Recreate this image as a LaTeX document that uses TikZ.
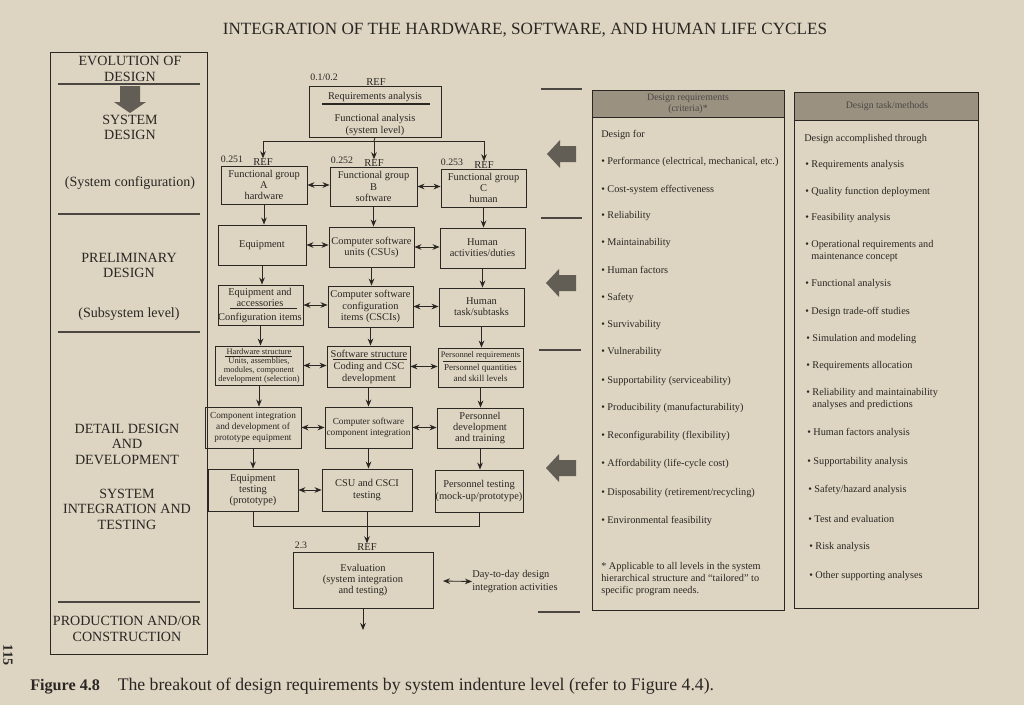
\documentclass[tikz,border=0pt]{standalone}
\usepackage{fontspec}
\setmainfont{Liberation Serif}
\usetikzlibrary{arrows.meta}

\definecolor{paper}{RGB}{221,212,194}
\definecolor{ink}{RGB}{42,38,34}
\definecolor{hdrgray}{RGB}{155,145,129}
\definecolor{arrgray}{RGB}{98,93,85}

\newcommand{\bxf}{\fontsize{7.4}{7.9}\selectfont}
\newcommand{\smf}{\fontsize{6}{6.4}\selectfont}
\newcommand{\lvf}{\fontsize{10}{11}\selectfont}
\newcommand{\itf}{\fontsize{7.3}{8.5}\selectfont}

\begin{document}
\begin{tikzpicture}[x=0.025cm,y=-0.025cm,
  blk/.style={draw=ink,line width=0.6pt,inner sep=0pt,align=center,font=\bxf,text=ink},
  wh/.style 2 args={minimum width=#1*0.025cm,minimum height=#2*0.025cm},
  txt/.style={inner sep=0pt,align=center,font=\bxf,text=ink},
  num/.style={inner sep=0pt,font=\fontsize{7}{7}\selectfont,text=ink},
  ref/.style={inner sep=0pt,font=\fontsize{7.5}{7.5}\selectfont,text=ink},
  lvl/.style={inner sep=0pt,align=center,font=\lvf,text=ink},
  item/.style={inner sep=0pt,anchor=west,align=left,font=\itf,text=ink},
  hdr/.style={inner sep=0pt,align=center,font=\fontsize{7}{8}\selectfont,text=ink!85},
  rul/.style={draw=ink,line width=0.6pt},
  bar/.style={draw=ink!85,line width=1.1pt},
  arr/.style={draw=ink,line width=0.6pt,-{Stealth[length=5pt,width=4pt]}},
  dbl/.style={draw=ink,line width=0.6pt,{Stealth[length=5pt,width=4pt]}-{Stealth[length=5pt,width=4pt]}}]

  \fill[paper] (0,0) rectangle (1024,705);

  \node[inner sep=0pt,font=\fontsize{12.2}{12}\selectfont,text=ink] (title) at (525,30)
    {INTEGRATION OF THE HARDWARE, SOFTWARE, AND HUMAN LIFE CYCLES};

  % evolution of design
  \draw[ink,line width=0.7pt] (50,52) rectangle (207,654);
  \node[lvl] (evo) at (130,69) {EVOLUTION OF\\DESIGN};
  \draw[bar] (58,84) -- (200,84);
  \fill[arrgray] (120,86) -- (140,86) -- (140,102) -- (146,102) -- (130,113) -- (114,102) -- (120,102) -- cycle;
  \node[lvl] (sysd) at (130,127.5) {SYSTEM\\DESIGN};
  \node[lvl] (sysc) at (130,183) {(System configuration)};
  \draw[bar] (58,214) -- (200,214);
  \node[lvl] (prel) at (129,265.5) {PRELIMINARY\\DESIGN};
  \node[lvl] (subs) at (129,314) {(Subsystem level)};
  \draw[bar] (58,332) -- (200,332);
  \node[lvl] (detd) at (127,444) {DETAIL DESIGN\\AND\\DEVELOPMENT};
  \node[lvl] (sint) at (127,509) {SYSTEM\\INTEGRATION AND\\TESTING};
  \draw[bar,line width=1.5pt] (58,602) -- (200,602);
  \node[lvl] (prod) at (127,629) {PRODUCTION AND/OR\\CONSTRUCTION};

  % top level
  \node[blk,wh={132}{51}] (req) at (375,111.5) {};
  \node[txt] (reqa) at (375,97) {Requirements analysis};
  \draw[rul,line width=0.8pt] (322,104) -- (430,104);
  \node[txt] (reqf) at (375,125) {Functional analysis\\(system level)};
  \node[num] (nreq) at (324,77) {0.1/0.2};
  \node[ref] (rreq) at (376,82) {REF};

  \node[blk,wh={86}{38}] (gA) at (264,185) {Functional group\\A\\hardware};
  \node[blk,wh={87}{39}] (gB) at (373.5,186.5) {Functional group\\B\\software};
  \node[blk,wh={85}{38}] (gC) at (483.5,188) {Functional group\\C\\human};
  \node[num] (nA) at (232,159) {0.251};
  \node[num] (nB) at (342,160) {0.252};
  \node[num] (nC) at (452,162) {0.253};
  \node[ref] (rA) at (263,162) {REF};
  \node[ref] (rB) at (374,163) {REF};
  \node[ref] (rC) at (484,165) {REF};

  \coordinate (br) at (374,141);
  \draw[rul] (req.south) -- (br);
  \draw[arr] (br) -| (rA.north);
  \draw[arr] (br) -- (rB.north);
  \draw[arr] (br) -| (rC.north);

  % subsystem boxes
  \node[blk,wh={88}{40}] (eqp) at (262,245) {Equipment};
  \node[blk,wh={85}{40}] (csu) at (371.5,247) {Computer software\\units (CSUs)};
  \node[blk,wh={85}{40}] (hact) at (482.5,248) {Human\\activities/duties};

  \node[blk,wh={85}{40}] (eqacc) at (260.5,305) {};
  \node[txt] (eqacct) at (260,297.5) {Equipment and\\accessories};
  \draw[rul] (230,308) -- (297,308);
  \node[txt] (eqaccc) at (260,318) {Configuration items};
  \node[blk,wh={85}{41}] (csci) at (370.5,306.5) {Computer software\\configuration\\items (CSCIs)};
  \node[blk,wh={85}{38}] (htask) at (481.5,307) {Human\\task/subtasks};

  \node[blk,wh={88}{39}] (hws) at (259,365.5) {};
  \node[txt,font=\smf] (hwst) at (259,351.5) {Hardware structure};
  \draw[rul] (225,356) -- (292,356);
  \node[txt,font=\smf] (hwsu) at (259,370) {Units, assemblies,\\modules, component\\development (selection)};
  \node[blk,wh={83}{41}] (sws) at (368.5,366.5) {};
  \node[txt] (swst) at (369,353.5) {Software structure};
  \draw[rul] (333,359.5) -- (407,359.5);
  \node[txt] (swsc) at (369,373) {Coding and CSC\\development};
  \node[blk,wh={85}{39}] (preq) at (480.5,367.5) {};
  \node[txt,font=\smf] (preqt) at (480.5,355) {Personnel requirements};
  \draw[rul] (443,361) -- (521,361);
  \node[txt,font=\fontsize{6.4}{7.6}\selectfont] (preqq) at (480.5,373) {Personnel quantities\\and skill levels};

  \node[blk,wh={96}{41},font=\fontsize{6.6}{7.6}\selectfont] (cint) at (253,427.5) {Component integration\\and development of\\prototype equipment};
  \node[blk,wh={87}{41},font=\fontsize{6.6}{7.6}\selectfont] (csint) at (368.5,427.5) {Computer software\\component integration};
  \node[blk,wh={86}{40}] (pdev) at (480,428) {Personnel\\development\\and training};

  \node[blk,wh={90}{42}] (eqt) at (253,490) {Equipment\\testing\\(prototype)};
  \node[blk,wh={90}{42}] (csut) at (367,490) {CSU and CSCI\\testing};
  \node[blk,wh={88}{42}] (pt) at (479,491) {Personnel testing\\(mock-up/prototype)};

  % downward flow
  \draw[arr] (gA.south) -- (gA.south |- eqp.north);
  \draw[arr] (gB.south) -- (gB.south |- csu.north);
  \draw[arr] (gC.south) -- (gC.south |- hact.north);
  \draw[arr] (eqp.south) -- (eqp.south |- eqacc.north);
  \draw[arr] (csu.south) -- (csu.south |- csci.north);
  \draw[arr] (hact.south) -- (hact.south |- htask.north);
  \draw[arr] (eqacc.south) -- (eqacc.south |- hws.north);
  \draw[arr] (csci.south) -- (csci.south |- sws.north);
  \draw[arr] (htask.south) -- (htask.south |- preq.north);
  \draw[arr] (hws.south) -- (hws.south |- cint.north);
  \draw[arr] (sws.south) -- (sws.south |- csint.north);
  \draw[arr] (preq.south) -- (preq.south |- pdev.north);
  \draw[arr] (cint.south) -- (cint.south |- eqt.north);
  \draw[arr] (csint.south) -- (csint.south |- csut.north);
  \draw[arr] (pdev.south) -- (pdev.south |- pt.north);

  % side links
  \draw[dbl] (gA.east) -- (gA.east -| gB.west);
  \draw[dbl] (gB.east) -- (gB.east -| gC.west);
  \draw[dbl] (eqp.east) -- (eqp.east -| csu.west);
  \draw[dbl] (csu.east) -- (csu.east -| hact.west);
  \draw[dbl] (eqacc.east) -- (eqacc.east -| csci.west);
  \draw[dbl] (csci.east) -- (csci.east -| htask.west);
  \draw[dbl] (hws.east) -- (hws.east -| sws.west);
  \draw[dbl] (sws.east) -- (sws.east -| preq.west);
  \draw[dbl] (cint.east) -- (cint.east -| csint.west);
  \draw[dbl] (csint.east) -- (csint.east -| pdev.west);
  \draw[dbl] (eqt.east) -- (eqt.east -| csut.west);

  % evaluation
  \node[blk,wh={140}{56}] (eval) at (363,580) {Evaluation\\(system integration\\and testing)};
  \node[num] (neval) at (301,545) {2.3};
  \node[ref] (reval) at (367,547) {REF};
  \coordinate (mrgy) at (0,526);
  \draw[rul] (eqt.south) |- (csut.south |- mrgy) -| (pt.south);
  \draw[rul] (csut.south) -- (csut.south |- mrgy);
  \draw[arr] (csut.south |- mrgy) -- (reval.north);
  \coordinate (done) at (363,630);
  \draw[arr] (eval.south) -- (eval.south |- done);
  \node[txt,anchor=west,align=left,font=\fontsize{7.4}{9}\selectfont] (dtd) at (472,581.5) {Day-to-day design\\integration activities};
  \coordinate (dtdl) at (443,581);
  \draw[dbl] (dtdl) -- (dtd.west);

  % arrows to the right-hand columns
  \draw[bar] (541,89) -- (582,89);
  \fill[arrgray] (547,154) -- (560,140) -- (560,146) -- (576,146) -- (576,162) -- (560,162) -- (560,168) -- cycle;
  \draw[bar] (541,218) -- (582,218);
  \fill[arrgray] (546,283) -- (559,269) -- (559,275) -- (576,275) -- (576,291) -- (559,291) -- (559,297) -- cycle;
  \draw[bar] (539,350) -- (581,350);
  \fill[arrgray] (546,468) -- (559,454) -- (559,460) -- (576,460) -- (576,476) -- (559,476) -- (559,482) -- cycle;
  \draw[bar] (538,612) -- (580,612);

  % design requirements
  \draw[ink,line width=0.7pt,fill=hdrgray] (592,90) rectangle (784,117);
  \draw[ink,line width=0.7pt] (592,90) rectangle (784,610);
  \node[hdr] (dreqh) at (688,103.5) {Design requirements\\(criteria)*};
  \node[item] (df) at (601,135) {Design for};
  \node[item] (d1) at (601,162) {\textbullet\ Performance (electrical, mechanical, etc.)};
  \node[item] (d2) at (601,190) {\textbullet\ Cost-system effectiveness};
  \node[item] (d3) at (601,216) {\textbullet\ Reliability};
  \node[item] (d4) at (601,243) {\textbullet\ Maintainability};
  \node[item] (d5) at (601,270) {\textbullet\ Human factors};
  \node[item] (d6) at (601,298) {\textbullet\ Safety};
  \node[item] (d7) at (601,325) {\textbullet\ Survivability};
  \node[item] (d8) at (601,352) {\textbullet\ Vulnerability};
  \node[item] (d9) at (601,381) {\textbullet\ Supportability (serviceability)};
  \node[item] (d10) at (601,408) {\textbullet\ Producibility (manufacturability)};
  \node[item] (d11) at (601,436) {\textbullet\ Reconfigurability (flexibility)};
  \node[item] (d12) at (601,464) {\textbullet\ Affordability (life-cycle cost)};
  \node[item] (d13) at (601,493) {\textbullet\ Disposability (retirement/recycling)};
  \node[item] (d14) at (601,521) {\textbullet\ Environmental feasibility};
  \node[item] (dnote) at (601,579) {* Applicable to all levels in the system\\hierarchical structure and ``tailored'' to\\specific program needs.};

  % design task/methods
  \draw[ink,line width=0.7pt,fill=hdrgray] (794,92) rectangle (978,120);
  \draw[ink,line width=0.7pt] (794,92) rectangle (978,608);
  \node[hdr] (dtmh) at (887,106.5) {Design task/methods};
  \node[item] (dt) at (804,139) {Design accomplished through};
  \node[item] (t1) at (805,165) {\textbullet\ Requirements analysis};
  \node[item] (t2) at (805,192) {\textbullet\ Quality function deployment};
  \node[item] (t3) at (805,218) {\textbullet\ Feasibility analysis};
  \node[item] (t4) at (805,251) {\textbullet\ Operational requirements and\\\phantom{\textbullet\ }maintenance concept};
  \node[item] (t5) at (805,284) {\textbullet\ Functional analysis};
  \node[item] (t6) at (805,312) {\textbullet\ Design trade-off studies};
  \node[item] (t7) at (806,339) {\textbullet\ Simulation and modeling};
  \node[item] (t8) at (806,366) {\textbullet\ Requirements allocation};
  \node[item] (t9) at (806,399.5) {\textbullet\ Reliability and maintainability\\\phantom{\textbullet\ }analyses and predictions};
  \node[item] (t10) at (807,433) {\textbullet\ Human factors analysis};
  \node[item] (t11) at (807,462) {\textbullet\ Supportability analysis};
  \node[item] (t12) at (808,490) {\textbullet\ Safety/hazard analysis};
  \node[item] (t13) at (808,519) {\textbullet\ Test and evaluation};
  \node[item] (t14) at (809,547) {\textbullet\ Risk analysis};
  \node[item] (t15) at (809,576) {\textbullet\ Other supporting analyses};

  % caption
  \node[inner sep=0pt,anchor=west,font=\fontsize{12.6}{13}\selectfont,text=ink] (cap) at (30,686)
    {{\bfseries\fontsize{11.5}{13}\selectfont Figure 4.8}\quad The breakout of design requirements by system indenture level (refer to Figure 4.4).};
  \node[inner sep=0pt,rotate=-90,font=\bfseries\fontsize{10}{10}\selectfont,text=ink] (page) at (8,655) {115};
\end{tikzpicture}
\end{document}
